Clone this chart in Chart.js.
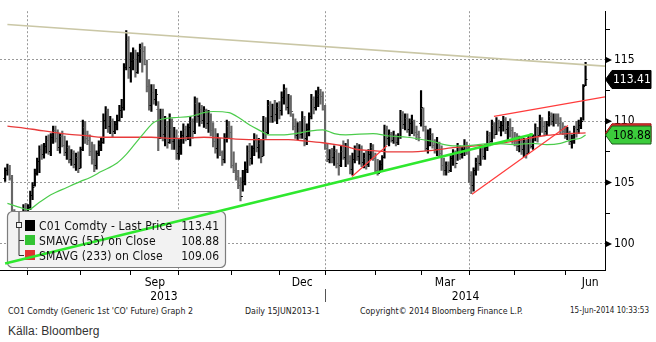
<!DOCTYPE html>
<html>
<head>
<meta charset="utf-8">
<script src="https://cdn.jsdelivr.net/npm/chart.js@4.4.1/dist/chart.umd.min.js"></script>
<style>
  body { margin: 0; background: #fff; width: 656px; height: 342px; overflow: hidden; position: relative;
         font-family: 'DejaVu Sans Condensed', 'DejaVu Sans', sans-serif; }
  #wrap { position: absolute; left: 0; top: 0; width: 656px; height: 304px; }
  .lg { position: absolute; font-size: 12px; letter-spacing: 0.15px; line-height: 14px; color: #111; white-space: nowrap; }
  .lv { text-align: right; width: 52px; letter-spacing: 0; }
  .ft { position: absolute; top: 306px; font-size: 8.8px; line-height: 10px; color: #222; white-space: nowrap; }
  #src { position: absolute; left: 8px; top: 324px; font: 12px 'Liberation Sans Narrow', 'Liberation Sans', sans-serif; color: #333; }
</style>
</head>
<body>
<div id="wrap"><canvas id="chart"></canvas></div>

<div class="lg" style="left:39px;top:219px">C01 Comdty - Last Price</div>
<div class="lg lv" style="left:167px;top:219px">113.41</div>
<div class="lg" style="left:39px;top:234px">SMAVG (55) on Close</div>
<div class="lg lv" style="left:167px;top:234px">108.88</div>
<div class="lg" style="left:39px;top:249px">SMAVG (233) on Close</div>
<div class="lg lv" style="left:167px;top:249px">109.06</div>

<div class="ft" style="left:8px">CO1 Comdty (Generic 1st 'CO' Future) Graph 2</div>
<div class="ft" style="left:245px">Daily 15JUN2013-1</div>
<div class="ft" style="left:360px">Copyright© 2014 Bloomberg Finance L.P.</div>
<div class="ft" style="right:7px;font-size:8px">15-Jun-2014 10:33:53</div>
<div id="src">Källa: Bloomberg</div>

<script>
// daily bars, index 0 = 17 Jun 2013 ... 254 = 13 Jun 2014 (trading days)
const highs = [
  106.2,106.5,106.4,105.6,102.8,101.6,101.8,102.4,103.2,103.3,
  103.2,104.3,105.0,106.1,107.0,108.0,108.1,108.2,108.8,108.9,
  109.0,109.6,109.6,109.3,109.0,109.2,108.8,108.4,108.0,107.7,
  107.6,107.4,107.5,107.9,110.1,110.0,109.2,108.9,108.3,108.1,
  107.6,108.4,108.6,110.6,111.2,111.0,110.4,110.2,110.0,110.5,
  111.3,111.8,114.7,117.4,116.9,115.6,116.0,115.8,115.6,116.3,
  116.4,116.1,115.0,113.4,113.0,113.0,112.6,111.6,111.0,111.0,
  110.4,110.0,110.6,110.2,109.5,109.3,108.5,109.2,109.8,109.6,
  109.8,110.4,110.2,112.0,111.9,111.5,111.3,111.2,111.0,110.9,
  110.6,109.9,109.4,109.0,108.6,107.6,109.0,110.1,110.0,109.6,
  107.5,106.6,106.0,105.4,106.0,106.7,108.0,108.2,108.0,109.0,
  108.9,108.6,108.5,110.4,110.3,111.7,111.6,111.4,111.7,111.5,
  111.6,112.4,113.0,112.7,112.2,112.1,110.6,110.2,109.9,110.0,
  110.8,110.4,109.8,110.7,112.2,112.0,112.5,112.8,112.6,112.4,
  111.3,108.2,107.7,107.8,108.0,107.7,107.4,108.0,108.4,108.2,
  108.5,107.2,107.4,108.0,108.2,108.1,108.0,107.4,107.6,107.7,
  108.2,108.1,107.4,106.9,106.8,107.2,109.7,109.6,109.3,109.1,
  109.2,108.9,109.0,110.9,110.8,110.6,110.6,110.2,110.5,110.1,
  109.6,109.2,112.5,111.1,109.6,109.3,109.4,109.0,108.5,108.7,
  108.3,108.0,107.0,106.7,106.7,107.2,107.7,107.6,108.2,108.0,
  107.9,108.5,108.3,107.9,105.9,106.2,107.0,107.2,107.9,108.0,
  108.1,109.2,109.1,110.1,109.9,110.3,110.1,110.0,110.4,110.3,
  110.0,110.2,109.5,109.1,109.0,108.8,108.6,108.6,108.5,108.8,
  109.0,108.9,109.8,109.5,110.5,110.3,110.0,110.0,110.8,110.7,
  110.6,110.6,110.6,110.3,109.9,109.6,109.5,109.2,108.9,109.6,
  110.0,110.1,110.3,113.0,114.8
];
const lows = [
  105.1,105.6,105.2,102.3,100.6,99.8,100.4,101.0,101.7,102.1,
  102.0,102.8,103.6,104.7,105.6,105.8,106.9,107.0,107.4,107.3,
  107.2,108.2,108.3,107.6,107.4,107.9,107.2,106.9,106.6,106.4,
  106.2,106.0,105.8,106.2,107.6,108.2,108.1,107.2,106.5,105.9,
  106.1,107.2,107.6,108.2,109.4,109.1,109.0,108.7,109.0,109.3,
  110.0,110.3,110.9,114.2,113.5,113.2,114.2,113.6,113.9,114.8,
  114.0,114.6,112.4,110.9,110.8,111.4,111.3,107.6,108.6,108.4,
  108.0,107.8,108.2,107.7,107.7,106.9,106.9,107.3,108.2,108.4,
  108.5,108.0,108.6,109.0,109.9,109.6,109.8,109.5,109.4,109.1,
  108.8,107.9,107.4,107.0,107.2,106.4,106.6,108.3,108.6,106.2,
  105.8,105.2,104.5,103.5,104.3,104.8,105.8,106.4,106.5,107.2,
  107.5,107.0,106.6,107.2,108.6,109.0,109.9,109.9,110.0,109.8,
  110.2,110.5,111.4,110.9,110.6,110.4,109.3,108.6,108.5,108.6,
  108.6,108.0,108.1,108.8,110.2,110.6,110.9,111.2,111.4,110.9,
  107.7,106.7,106.6,106.6,106.4,106.2,105.6,106.3,106.9,106.3,
  106.5,105.7,105.6,106.6,106.8,106.5,106.3,106.2,106.1,106.3,
  106.9,106.8,105.9,105.6,105.8,106.0,107.0,108.1,108.0,108.3,
  108.2,108.0,108.1,108.6,109.4,109.3,109.1,108.8,109.0,108.8,
  108.5,108.4,109.6,109.2,107.6,107.4,108.0,107.8,107.4,107.2,
  107.1,106.0,105.6,105.6,105.8,105.9,106.4,106.2,106.8,106.9,
  107.0,107.2,107.3,105.0,104.1,104.3,105.6,106.0,106.4,106.9,
  106.9,107.6,108.0,108.3,108.6,108.9,109.2,108.8,109.2,109.0,
  108.5,108.7,108.2,108.0,107.6,107.5,107.3,107.1,107.0,107.4,
  107.8,107.7,108.4,108.3,108.8,109.1,108.8,108.9,109.6,109.7,
  109.6,109.8,109.6,109.0,108.9,108.6,108.5,108.1,107.8,108.2,
  108.7,109.0,109.4,110.1,112.9
];
const opens = [
  105.4,106.0,106.1,105.4,102.6,101.0,101.2,101.3,101.9,102.8,
  102.3,103.0,104.0,104.8,105.8,106.8,107.7,107.3,108.0,108.5,
  107.6,108.7,109.3,108.6,107.9,108.8,108.1,107.5,107.9,106.9,
  107.4,106.5,107.1,106.2,107.7,109.5,108.6,108.5,107.6,106.9,
  106.4,107.4,108.1,108.3,110.1,110.9,109.6,110.0,109.2,109.8,
  110.1,110.9,111.2,114.4,116.6,114.4,114.9,115.1,114.0,115.4,
  116.0,115.7,114.7,112.9,111.3,112.4,111.8,111.0,108.6,110.2,
  109.0,109.6,108.3,109.4,108.4,108.7,107.4,108.0,108.9,109.4,
  108.8,109.5,110.0,109.2,111.5,110.4,111.0,110.1,110.9,109.9,
  110.4,109.3,108.4,107.8,108.6,107.5,106.9,108.7,109.6,109.1,
  106.4,106.0,105.5,104.8,103.9,105.1,106.1,107.6,107.0,107.8,
  108.5,107.9,108.2,107.2,110.0,109.1,111.3,110.4,111.1,110.6,
  111.2,110.9,112.0,112.6,111.2,111.9,110.8,109.6,108.9,109.5,
  109.0,110.3,108.6,109.4,110.4,111.8,111.2,112.0,112.2,112.1,
  111.0,107.8,106.9,107.3,107.1,107.6,106.6,106.4,107.6,107.1,
  107.9,106.8,106.1,106.9,107.7,107.2,107.8,106.7,107.0,106.5,
  107.3,107.9,107.0,106.0,105.8,106.5,107.1,109.3,108.6,109.0,
  108.5,108.9,108.3,108.8,110.5,109.8,110.3,109.4,109.9,110.1,
  109.1,109.0,109.9,111.1,109.6,107.8,108.1,109.0,108.1,107.7,
  108.2,107.4,106.4,106.0,106.4,106.0,107.0,107.4,106.6,107.9,
  107.3,107.7,108.1,107.8,105.6,104.8,106.0,106.7,106.6,107.7,
  107.2,107.9,108.9,108.4,109.7,109.0,109.9,109.5,109.7,110.2,
  109.4,109.6,109.3,108.6,108.4,108.0,108.5,107.7,108.3,107.4,
  108.5,108.0,108.7,109.5,108.9,110.1,109.6,109.2,109.8,110.4,
  110.0,110.3,110.2,109.9,109.4,109.2,108.8,109.1,108.4,108.6,
  109.5,109.4,109.7,110.0,113.0
];
const closes = [
  106.0,106.1,105.4,102.6,101.0,101.2,101.3,101.9,102.8,102.2,
  103.0,104.0,104.6,105.8,106.8,107.7,107.3,108.0,108.5,107.6,
  108.7,109.3,108.6,107.9,108.8,108.1,107.5,107.9,106.9,107.4,
  106.5,107.1,106.2,107.7,109.5,108.6,108.5,107.6,106.9,106.4,
  107.4,108.1,108.3,110.1,110.9,109.6,110.0,109.2,109.8,110.1,
  110.9,111.2,114.4,116.6,114.4,114.9,115.1,114.0,115.4,116.0,
  115.7,114.7,112.9,111.3,112.4,111.8,112.2,108.6,110.2,109.0,
  109.6,108.3,109.4,108.4,108.7,107.4,108.0,108.9,109.4,108.8,
  109.5,110.0,109.2,111.5,110.4,111.0,110.1,110.9,109.9,110.4,
  109.3,108.4,107.8,108.6,107.5,106.9,108.7,109.6,109.1,106.4,
  106.0,105.5,104.8,103.9,105.1,106.1,107.6,107.0,107.8,108.5,
  107.9,108.2,107.2,110.0,109.1,111.3,110.4,111.1,110.6,111.2,
  110.9,112.0,112.6,111.2,111.9,110.8,109.6,108.9,109.5,109.0,
  110.3,108.6,109.4,110.4,111.8,111.2,112.0,112.2,112.1,111.0,
  107.8,106.9,107.3,107.1,107.6,106.6,106.4,107.6,107.1,107.9,
  106.8,106.1,106.9,107.7,107.2,107.8,106.7,107.0,106.5,107.3,
  107.9,107.0,106.0,105.8,106.5,107.1,109.3,108.6,109.0,108.5,
  108.9,108.3,108.8,110.5,109.8,110.3,109.4,109.9,110.1,109.1,
  109.0,108.7,111.2,109.6,107.8,108.1,109.0,108.1,107.7,108.2,
  107.4,106.4,106.0,106.4,106.0,107.0,107.4,106.6,107.9,107.3,
  107.7,108.1,107.8,105.6,104.8,106.0,106.7,106.6,107.7,107.2,
  107.9,108.9,108.4,109.7,109.0,109.9,109.5,109.7,110.2,109.4,
  109.6,109.3,108.6,108.4,108.0,108.5,107.7,108.3,107.4,108.5,
  108.0,108.7,109.5,108.9,110.1,109.6,109.2,109.8,110.4,110.0,
  110.3,110.2,109.9,109.4,109.2,108.8,109.1,108.4,108.6,109.5,
  109.4,109.7,110.0,112.9,113.41
];

// moving averages: [day index, value]
const ma55Days = [1,6,10,15,20,27,33,37,42,49,53,57,61,65,69,74,81,87,91,98,103,107,112,115,121,127,133,139,144,149,161,168,176,186,196,201,207,213,223,231,237,243,248,252,254];
const ma55Vals = [103.3,103.0,102.8,103.4,104.0,104.6,105.1,105.4,105.9,106.6,107.3,108.2,109.1,109.9,110.2,110.3,110.4,110.7,110.8,110.7,110.2,109.7,109.2,108.9,108.9,109.0,109.2,109.3,109.0,108.9,109.0,108.8,108.7,108.4,108.0,108.0,108.1,108.2,108.1,108.2,108.1,108.2,108.5,108.64,108.88];
const ma233Days = [1,12,21,27,37,42,64,74,87,101,111,124,131,139,149,154,161,168,176,186,196,206,213,223,235,243,254];
const ma233Vals = [109.6,109.35,109.1,108.95,108.8,108.7,108.7,108.6,108.7,108.55,108.5,108.5,108.4,108.25,107.95,107.7,107.6,107.5,107.5,107.6,107.85,108.0,108.1,108.4,108.8,108.95,109.06];

// drawn trend lines: [day index, price]
const resistanceLine = [[1, 117.9], [262.5, 114.5]];
const supportLine = [[0, 98.4], [231, 108.95]];
const redLine1 = [[151.8, 105.5], [167.1, 108.0]];
const redLine2 = [[204.3, 104.05], [246.3, 109.65]];
const redLine3 = [[213.9, 110.4], [262.5, 112.0]];

// axes
const monthStarts = [10, 33, 55, 76, 99, 120, 140, 162, 182, 203, 223, 245];
const quarterStarts = [10, 76, 140, 203];
const monthLabelPos = [65.5, 130, 192.5, 256];
const monthLabels = ['Sep', 'Dec', 'Mar', 'Jun'];
const yearLabelPos = [69.5, 201.5];
const yearLabels = ['2013', '2014'];
const yTicks = [100, 102.5, 105, 107.5, 110, 112.5, 115, 117.5];
const lastValues = [113.41, 108.88, 109.06];

const FONT = "'DejaVu Sans Condensed', 'DejaVu Sans', sans-serif";
const pts = (d, v) => d.map((x, i) => ({ x: x, y: v[i] }));
const seg = s => s.map(p => ({ x: p[0], y: p[1] }));

function roundRect(ctx, x, y, w, h, r) {
  ctx.beginPath();
  ctx.moveTo(x + r, y);
  ctx.lineTo(x + w - r, y); ctx.arcTo(x + w, y, x + w, y + r, r);
  ctx.lineTo(x + w, y + h - r); ctx.arcTo(x + w, y + h, x + w - r, y + h, r);
  ctx.lineTo(x + r, y + h); ctx.arcTo(x, y + h, x, y + h - r, r);
  ctx.lineTo(x, y + r); ctx.arcTo(x, y, x + r, y, r);
  ctx.closePath();
}

const extras = {
  id: 'extras',
  afterDatasetDraw(chart, args) {
    if (args.index !== 0) return;
    const { ctx, chartArea: a } = chart;
    const x = chart.scales.x, y = chart.scales.y;
    // open / close ticks
    ctx.save();
    ctx.beginPath(); ctx.rect(a.left, a.top, a.width, a.height); ctx.clip();
    ctx.lineWidth = 1;
    for (let i = 0; i < highs.length; i++) {
      const px = x.getPixelForValue(i);
      const yo = Math.round(y.getPixelForValue(opens[i])) + 0.5;
      const yc = Math.round(y.getPixelForValue(closes[i])) + 0.5;
      ctx.strokeStyle = closes[i] >= opens[i] ? '#000' : '#666';
      ctx.beginPath();
      ctx.moveTo(px - 1.8, yo); ctx.lineTo(px, yo);
      ctx.moveTo(px, yc); ctx.lineTo(px + 1.8, yc);
      ctx.stroke();
    }
    ctx.restore();

    // legend box
    ctx.save();
    roundRect(ctx, 7.5, 211.5, 218, 56, 5);
    ctx.fillStyle = '#f2f2f2';
    ctx.fill();
    ctx.strokeStyle = '#7d7d7d';
    ctx.lineWidth = 1.2;
    ctx.stroke();
    ctx.fillStyle = '#000'; ctx.fillRect(25, 220, 10, 11);
    ctx.fillStyle = '#33c433'; ctx.fillRect(25, 235, 10, 10);
    ctx.fillStyle = '#e03232'; ctx.fillRect(25, 250, 10, 10);
    ctx.strokeStyle = '#333'; ctx.lineWidth = 1;
    ctx.strokeRect(16.5, 222.5, 5, 5);
    ctx.beginPath();
    ctx.moveTo(19, 212); ctx.lineTo(19, 222);
    ctx.moveTo(19, 228); ctx.lineTo(19, 255.5); ctx.lineTo(24, 255.5);
    ctx.moveTo(19, 240.5); ctx.lineTo(24, 240.5);
    ctx.stroke();
    ctx.restore();
  },
  afterDraw(chart) {
    const { ctx, chartArea: a } = chart;
    const x = chart.scales.x, y = chart.scales.y;
    ctx.save();
    // arrows on major y ticks
    ctx.fillStyle = '#000';
    yTicks.filter(v => v % 5 === 0).forEach(v => {
      const py = y.getPixelForValue(v);
      ctx.beginPath();
      ctx.moveTo(a.right, py - 3.5); ctx.lineTo(a.right + 7, py); ctx.lineTo(a.right, py + 3.5);
      ctx.closePath(); ctx.fill();
    });
    // value tags: 233 (behind), 55, last price
    const tag = (v, fill, stroke, txt) => {
      const py = y.getPixelForValue(v);
      ctx.beginPath();
      ctx.moveTo(a.right + 0.5, py);
      ctx.lineTo(a.right + 7, py - 9); ctx.lineTo(651, py - 9);
      ctx.lineTo(651, py + 9); ctx.lineTo(a.right + 7, py + 9);
      ctx.closePath();
      ctx.fillStyle = fill; ctx.fill();
      ctx.strokeStyle = stroke; ctx.lineWidth = 1; ctx.stroke();
      ctx.fillStyle = txt;
      ctx.font = '12px ' + FONT;
      ctx.textBaseline = 'middle';
      ctx.fillText(v.toFixed(2), a.right + 8, py + 0.5);
    };
    tag(lastValues[2], '#e03232', '#a01010', '#000');
    tag(lastValues[1], '#3ccc3c', '#1c5c1c', '#000');
    tag(lastValues[0], '#000', '#000', '#fff');
    // year separator
    const sx = Math.round(x.getPixelForValue(140)) + 0.5;
    ctx.strokeStyle = '#555'; ctx.lineWidth = 1;
    ctx.beginPath(); ctx.moveTo(sx, 289); ctx.lineTo(sx, 302); ctx.stroke();
    ctx.restore();
  }
};

const xRange = { min: -2.25, max: 262.5, offset: false };

new Chart(document.getElementById('chart'), {
  type: 'bar',
  data: {
    datasets: [
      {
        type: 'bar',
        label: 'C01 Comdty - Last Price',
        data: highs.map((h, i) => ({ x: i, y: [lows[i], h] })),
        backgroundColor: closes.map((c, i) => c >= opens[i] ? '#000' : '#666'),
        barThickness: 1.5,
        order: 6
      },
      {
        type: 'line', label: 'SMAVG (233) on Close',
        data: pts(ma233Days, ma233Vals),
        borderColor: '#e83a3a', borderWidth: 1.3, pointRadius: 0,
        cubicInterpolationMode: 'monotone', order: 5
      },
      {
        type: 'line', label: 'SMAVG (55) on Close',
        data: pts(ma55Days, ma55Vals),
        borderColor: '#4ccc4c', borderWidth: 1.2, pointRadius: 0,
        cubicInterpolationMode: 'monotone', order: 4
      },
      { type: 'line', data: seg(resistanceLine), borderColor: '#cac7a6', borderWidth: 1.6, pointRadius: 0, order: 3 },
      { type: 'line', data: seg(redLine1), borderColor: '#ff3b3b', borderWidth: 1.2, pointRadius: 0, order: 2 },
      { type: 'line', data: seg(redLine2), borderColor: '#ff3b3b', borderWidth: 1.2, pointRadius: 0, order: 2 },
      { type: 'line', data: seg(redLine3), borderColor: '#ff3b3b', borderWidth: 1.2, pointRadius: 0, order: 2 },
      { type: 'line', data: seg(supportLine), borderColor: '#2ee82e', borderWidth: 2.6, pointRadius: 0, order: 1 }
    ]
  },
  options: {
    responsive: true,
    maintainAspectRatio: false,
    animation: false,
    layout: { padding: { top: 5, left: 0, right: 0, bottom: 0 } },
    plugins: { legend: { display: false }, tooltip: { enabled: false } },
    scales: {
      x: {
        type: 'linear', position: 'bottom', weight: 0, ...xRange,
        afterBuildTicks: s => { s.ticks = monthStarts.map(v => ({ value: v })); },
        ticks: { display: false },
        grid: {
          offset: false,
          color: c => c.tick && quarterStarts.includes(c.tick.value) ? '#999' : 'rgba(0,0,0,0)',
          tickColor: '#000', tickLength: 5, drawTicks: true
        },
        border: { display: true, color: '#000', width: 1, dash: [2, 2] },
        afterFit: s => { s.height = 6; }
      },
      xm: {
        type: 'linear', position: 'bottom', weight: 1, ...xRange,
        afterBuildTicks: s => { s.ticks = monthLabelPos.map(v => ({ value: v })); },
        ticks: {
          callback: v => monthLabels[monthLabelPos.indexOf(v)],
          font: { family: FONT, size: 12 }, color: '#000', padding: 0,
          maxRotation: 0, autoSkip: false
        },
        grid: { display: false, drawTicks: false, offset: false },
        border: { display: false },
        afterFit: s => { s.height = 14; }
      },
      xy: {
        type: 'linear', position: 'bottom', weight: 2, ...xRange,
        afterBuildTicks: s => { s.ticks = yearLabelPos.map(v => ({ value: v })); },
        ticks: {
          callback: v => yearLabels[yearLabelPos.indexOf(v)],
          font: { family: FONT, size: 12 }, color: '#000', padding: 0,
          maxRotation: 0, autoSkip: false
        },
        grid: { display: false, drawTicks: false, offset: false },
        border: { display: false },
        afterFit: s => { s.height = 14; }
      },
      y: {
        type: 'linear', position: 'right', min: 97.87, max: 118.98,
        afterBuildTicks: s => { s.ticks = yTicks.map(v => ({ value: v })); },
        ticks: {
          callback: v => v % 5 === 0 ? String(v) : '',
          font: { family: FONT, size: 12 }, color: '#000', padding: 4
        },
        grid: {
          color: c => c.tick && c.tick.value % 5 === 0 ? '#999' : 'rgba(0,0,0,0)',
          tickColor: c => c.tick && c.tick.value % 5 === 0 ? 'rgba(0,0,0,0)' : '#000',
          tickLength: 5, drawTicks: true
        },
        border: { display: true, color: '#000', width: 1, dash: [2, 2] },
        afterFit: s => { s.width = 51; }
      }
    }
  },
  plugins: [extras]
});
</script>
</body>
</html>
